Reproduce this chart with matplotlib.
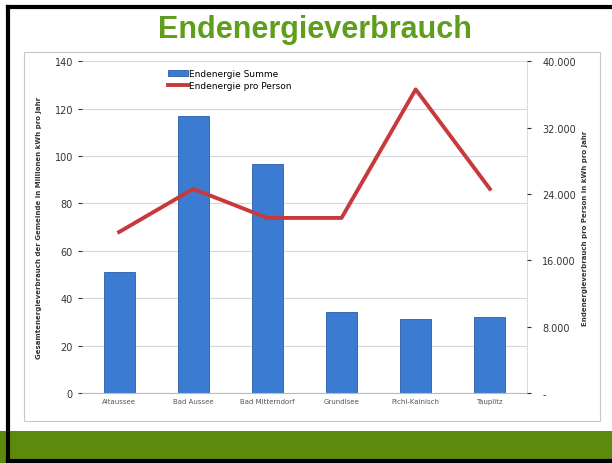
import matplotlib.pyplot as plt
from matplotlib.patches import Rectangle
from matplotlib.lines import Line2D

# Gemeinden und Werte
gemeinden = ["Altaussee", "Bad Aussee", "Bad Mitterndorf", "Grundlsee", "Pichl-Kainisch", "Tauplitz"]
summe_mio_kwh = [51, 117, 96.5, 34, 31, 32]
pro_person_kwh = [19400, 24600, 21100, 21100, 36600, 24600]

left_ticks = [0, 20, 40, 60, 80, 100, 120, 140]
right_ticks = [0, 8000, 16000, 24000, 32000, 40000]
right_labels = ["-", "8.000", "16.000", "24.000", "32.000", "40.000"]

fig = plt.figure(figsize=(6.12, 4.64), dpi=100)
fig.patch.set_facecolor("white")

# slide frame and footer
fig.add_artist(Rectangle((0.0, 0.0), 1.0, 0.069, transform=fig.transFigure,
                         facecolor="#5b8a0c", edgecolor="none", zorder=0))
fig.add_artist(Rectangle((0.04, 0.09), 0.94, 0.795, transform=fig.transFigure,
                         facecolor="white", edgecolor="#c8c8c8", lw=0.8, zorder=0))
fig.add_artist(Line2D([0.013, 0.013], [0.0, 0.982], transform=fig.transFigure, color="black", lw=3))
fig.add_artist(Line2D([0.013, 1.0], [0.982, 0.982], transform=fig.transFigure, color="black", lw=3))
fig.add_artist(Line2D([0.013, 1.0], [0.004, 0.004], transform=fig.transFigure, color="black", lw=3))

fig.text(0.515, 0.935, "Endenergieverbrauch", ha="center", va="center",
         fontsize=22, fontweight="bold", color="#5e9e1c", family="Liberation Sans")

ax = fig.add_axes([0.134, 0.151, 0.727, 0.715])
x = range(len(gemeinden))
bars = ax.bar(x, summe_mio_kwh, width=0.42, color="#3b7bd2", edgecolor="#2a5ea8",
              lw=0.6, label="Endenergie Summe", zorder=2)
ax.set_xlim(-0.5, len(gemeinden) - 0.5)
ax.set_ylim(0, 140)
ax.set_yticks(left_ticks)
ax.set_xticks(list(x))
ax.set_xticklabels(gemeinden, fontsize=5, color="#555555")
ax.tick_params(axis="y", labelsize=7, colors="#333333", length=3)
ax.tick_params(axis="x", length=0, pad=4)
ax.grid(axis="y", color="#d8d8d8", lw=0.8, zorder=0)
for s in ["top", "left"]:
    ax.spines[s].set_visible(False)
ax.spines["right"].set_color("#dddddd")
ax.spines["bottom"].set_color("#bbbbbb")
ax.set_ylabel("Gesamtenergieverbrauch der Gemeinde in Millionen kWh pro Jahr",
              fontsize=5, fontweight="bold", color="#333333", labelpad=9)

ax2 = ax.twinx()
line, = ax2.plot(x, pro_person_kwh, color="#c9383a", lw=2.8, label="Endenergie pro Person", zorder=3)
ax2.set_ylim(0, 40000)
ax2.set_yticks(right_ticks)
ax2.set_yticklabels(right_labels)
ax2.tick_params(axis="y", labelsize=7, colors="#333333", length=3, pad=8)
for s in ["top", "left", "bottom", "right"]:
    ax2.spines[s].set_visible(False)
ax2.set_ylabel("Endenergieverbrauch pro Person in kWh pro Jahr",
               fontsize=5, fontweight="bold", color="#333333", labelpad=4)

ax.legend([bars, line], ["Endenergie Summe", "Endenergie pro Person"],
          loc="upper left", bbox_to_anchor=(0.18, 0.995), frameon=False,
          fontsize=6.5, handlelength=2.2, handletextpad=0.1, borderpad=0.2,
          labelspacing=0.3)

fig.savefig("out.png", dpi=100)
